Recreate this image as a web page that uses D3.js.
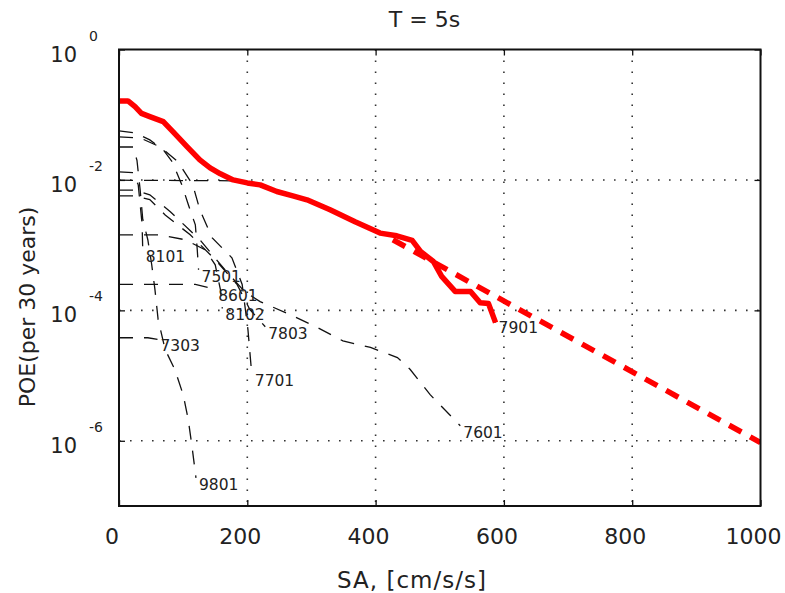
<!DOCTYPE html>
<html><head><meta charset="utf-8">
<script src="https://cdn.jsdelivr.net/npm/d3@7"></script>
<style>
body{margin:0;background:#fff}
svg{display:block}
text{font-family:"DejaVu Sans",Verdana,sans-serif;fill:#222}
</style>
</head><body><svg id="c" width="785" height="593"></svg>
<script>
const title = "T = 5s";
const xLabel = "SA, [cm/s/s]";
const yLabel = "POE(per 30 years)";
const xTicks = [0, 200, 400, 600, 800, 1000];
const yTickExps = [0, -2, -4, -6];

// total hazard curve (red solid)
const totalSA  = [0, 14, 25, 35, 48, 69, 84, 106, 126, 142, 158, 178, 200, 220, 246, 271, 293, 329, 368, 407, 433, 457, 470, 490, 503, 524, 548, 563, 576, 587];
const totalPOE = [0.163, 0.163, 0.133, 0.105, 0.0935, 0.0784, 0.0551, 0.0325, 0.0203, 0.0153, 0.0124, 0.0100, 0.0090, 0.0084, 0.00664, 0.00571, 0.00496, 0.00348, 0.00228, 0.00153, 0.00139, 0.00118, 0.0008, 0.000562, 0.000332, 0.000195, 0.000195, 0.000131, 0.000127, 0.0000649];

// extrapolated fit (red dashed)
const fitSA  = [427, 1000];
const fitPOE = [0.00121, 9.4e-7];

// scenario curves (black dashed)
const sa7901  = [0, 178, 200, 220, 246, 271, 293, 329, 368, 407, 433, 457, 470, 490, 503, 524, 548, 563, 576, 587];
const poe7901 = [0.0099, 0.0097, 0.0090, 0.0084, 0.00664, 0.00571, 0.00496, 0.00348, 0.00228, 0.00153, 0.00139, 0.00118, 0.0008, 0.000562, 0.000332, 0.000195, 0.000195, 0.000131, 0.000127, 0.0000649];
const sa9801  = [0, 22, 28, 33, 37, 45, 51, 56, 61, 72, 87, 100, 108, 114, 120];
const poe9801 = [0.032, 0.032, 0.020, 0.0070, 0.0025, 0.0012, 0.0005, 0.00021, 7.2e-5, 2.5e-5, 1.24e-5, 5.1e-6, 2.1e-6, 7.9e-7, 2.7e-7];
const sa7303  = [0, 45, 60];
const poe7303 = [3.8e-5, 3.8e-5, 3.6e-5];
const sa8101  = [0, 22, 30, 33, 36, 37];
const poe8101 = [0.0133, 0.0129, 0.0084, 0.0042, 0.0021, 0.00085];
const sa8601  = [0, 119, 150];
const poe8601 = [2.5e-4, 2.5e-4, 2.1e-4];
const sa8102  = [0, 64, 103, 134, 150, 158, 161];
const poe8102 = [0.00144, 0.00144, 0.00121, 0.00085, 0.0005, 0.00021, 0.000107];
const sa7501  = [0, 25, 48, 69, 83, 98, 108, 119, 122, 124];
const poe7501 = [0.0565, 0.0526, 0.0411, 0.0289, 0.0189, 0.0084, 0.0042, 0.00205, 0.00085, 0.00042];
const sa7701  = [0, 33, 64, 92, 115, 126, 145, 176, 192, 201, 207];
const poe7701 = [0.0457, 0.0441, 0.0321, 0.0189, 0.0084, 0.0035, 0.0013, 0.00064, 0.00025, 5.06e-5, 1.04e-5];
const sa7803  = [0, 25, 48, 72, 111, 150, 184, 204, 228];
const poe7803 = [0.0057, 0.0057, 0.0050, 0.0029, 0.00144, 0.0006, 0.00025, 0.000103, 5.6e-5];
const sa7601  = [0, 25, 48, 80, 126, 165, 196, 220, 267, 310, 349, 392, 434, 454, 485, 532];
const poe7601 = [0.0070, 0.0070, 0.0059, 0.00325, 0.00121, 0.00042, 0.000193, 0.000136, 8.6e-5, 5.4e-5, 3.4e-5, 2.7e-5, 1.89e-5, 1.24e-5, 5.1e-6, 1.7e-6];

const scenarios = [
  {name: "7901", sa: sa7901, poe: poe7901, label: false},
  {name: "9801", sa: sa9801, poe: poe9801, label: true},
  {name: "7303", sa: sa7303, poe: poe7303, label: true},
  {name: "8101", sa: sa8101, poe: poe8101, label: true},
  {name: "8601", sa: sa8601, poe: poe8601, label: true},
  {name: "8102", sa: sa8102, poe: poe8102, label: true},
  {name: "7501", sa: sa7501, poe: poe7501, label: true},
  {name: "7701", sa: sa7701, poe: poe7701, label: true},
  {name: "7803", sa: sa7803, poe: poe7803, label: true},
  {name: "7601", sa: sa7601, poe: poe7601, label: true}
];

const L = 119, R = 760.5, T = 49.5, B = 506;
const svg = d3.select("#c");
const x = d3.scaleLinear().domain([0, 1000]).range([L, R]);
const y = d3.scaleLog().domain([1e-7, 1]).range([B, T]);
const yTickVals = yTickExps.map(e => Math.pow(10, e));

// grid
const grid = svg.append("g").attr("stroke", "#333").attr("stroke-width", 1.6)
  .attr("stroke-dasharray", "1.6,9.4");
grid.selectAll("line.v").data(xTicks.filter(v => v > 0 && v < 1000)).join("line")
  .attr("x1", d => x(d)).attr("x2", d => x(d)).attr("y1", T).attr("y2", B);
grid.selectAll("line.h").data(yTickVals.filter(v => v < 1)).join("line")
  .attr("x1", L).attr("x2", R).attr("y1", d => y(d)).attr("y2", d => y(d));

// axes ticks (inward)
const axB = svg.append("g").attr("transform", `translate(0,${B})`)
  .call(d3.axisBottom(x).tickValues(xTicks).tickSize(-6).tickFormat(""));
const axT = svg.append("g").attr("transform", `translate(0,${T})`)
  .call(d3.axisTop(x).tickValues(xTicks).tickSize(-6).tickFormat(""));
const axL = svg.append("g").attr("transform", `translate(${L},0)`)
  .call(d3.axisLeft(y).tickValues(yTickVals).tickSize(-6).tickFormat(""));
const axR = svg.append("g").attr("transform", `translate(${R},0)`)
  .call(d3.axisRight(y).tickValues(yTickVals).tickSize(-6).tickFormat(""));
[axB, axT, axL, axR].forEach(a => {
  a.select(".domain").remove();
  a.selectAll("line").attr("stroke", "#111").attr("stroke-width", 1.3);
});

// clip
svg.append("clipPath").attr("id", "clip").append("rect")
  .attr("x", L).attr("y", T).attr("width", R - L).attr("height", B - T);

const line = d3.line().x(d => x(d[0])).y(d => y(d[1]));
const plot = svg.append("g").attr("clip-path", "url(#clip)");

scenarios.forEach(s => {
  const pts = s.sa.map((v, i) => [v, s.poe[i]]);
  plot.append("path").datum(pts).attr("d", line)
    .attr("fill", "none").attr("stroke", "#111").attr("stroke-width", 1.3)
    .attr("stroke-dasharray", "14,11");
});

const totalPts = totalSA.map((v, i) => [v, totalPOE[i]]);
const fitPts = fitSA.map((v, i) => [v, fitPOE[i]]);
plot.append("path").datum(fitPts).attr("d", line)
  .attr("fill", "none").attr("stroke", "#ff0000").attr("stroke-width", 5.5)
  .attr("stroke-dasharray", "14,10");
plot.append("path").datum(totalPts).attr("d", line)
  .attr("fill", "none").attr("stroke", "#ff0000").attr("stroke-width", 5.5)
  .attr("stroke-linejoin", "round");

// curve labels
const labels = svg.append("g").attr("font-size", 15.5);
scenarios.filter(s => s.label).forEach(s => {
  const n = s.sa.length - 1;
  labels.append("text").attr("x", x(s.sa[n]) + 3).attr("y", y(s.poe[n]) + 12).text(s.name);
});
labels.append("text").attr("x", x(totalSA[totalSA.length - 1]) + 3)
  .attr("y", y(totalPOE[totalPOE.length - 1]) + 10).text("7901");

// frame
svg.append("rect").attr("x", L).attr("y", T).attr("width", R - L).attr("height", B - T)
  .attr("fill", "none").attr("stroke", "#111").attr("stroke-width", 2);

// x tick labels
svg.append("g").selectAll("text").data(xTicks).join("text")
  .attr("x", d => x(d) - 7).attr("y", 544).attr("text-anchor", "middle")
  .attr("font-size", 22).text(d => d);

// y tick labels (10^e)
const yl = svg.append("g");
yTickVals.forEach((v, i) => {
  yl.append("text").attr("x", 77).attr("y", y(v) + 12).attr("text-anchor", "end")
    .attr("font-size", 21).text("10");
  yl.append("text").attr("x", 89).attr("y", y(v) - 9).attr("font-size", 14)
    .text(yTickExps[i]);
});

// titles
svg.append("text").attr("x", 424.5).attr("y", 27).attr("text-anchor", "middle")
  .attr("font-size", 22).text(title);
svg.append("text").attr("x", 412).attr("y", 588).attr("text-anchor", "middle")
  .attr("font-size", 23).attr("letter-spacing", 1).text(xLabel);
svg.append("text").attr("transform", "translate(35,307) rotate(-90)")
  .attr("text-anchor", "middle").attr("font-size", 22).text(yLabel);
</script></body></html>
